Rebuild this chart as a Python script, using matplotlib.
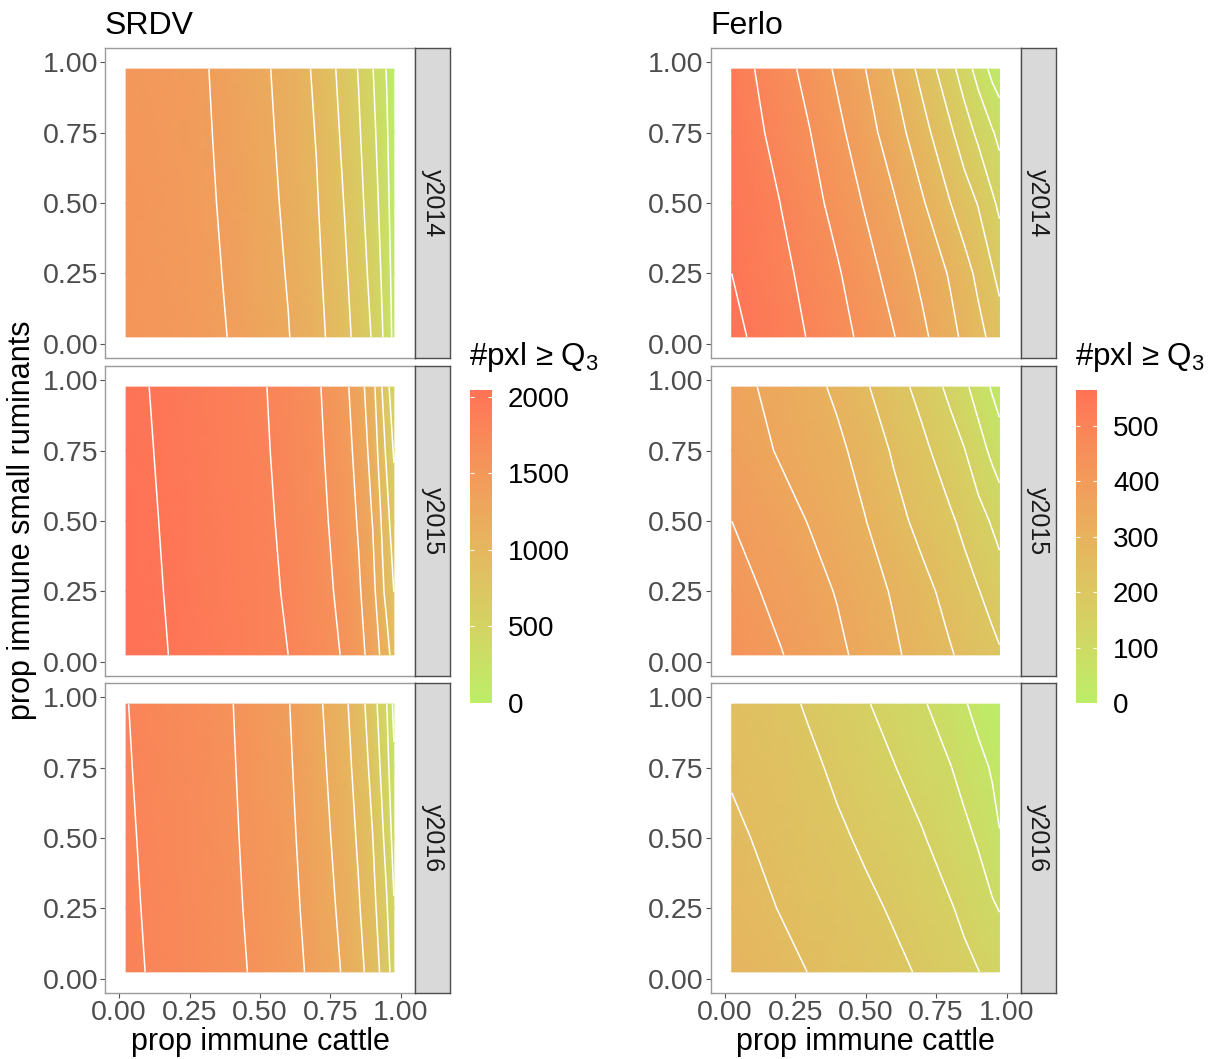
import numpy as np
import matplotlib
matplotlib.use("Agg")
import matplotlib.pyplot as plt
from matplotlib.colors import LinearSegmentedColormap, Normalize, to_rgb
from matplotlib.cm import ScalarMappable

# grid of the surface (node positions)
cattle = [0.025, 0.1, 0.2, 0.3, 0.4, 0.5, 0.6, 0.7, 0.8, 0.85, 0.9, 0.95, 0.975]
small_rum = [0.025, 0.25, 0.5, 0.75, 0.975]
years = ["y2014", "y2015", "y2016"]

# rows go from small_rum = 0.025 (bottom) to 0.975 (top)
srdv_2014 = [
    [1540, 1520, 1490, 1450, 1390, 1299, 1208, 1066, 862, 730, 582, 331, 140],
    [1535, 1515, 1483, 1442, 1377, 1286, 1189, 1042, 829, 696, 540, 297, 116],
    [1530, 1510, 1475, 1432, 1362, 1272, 1167, 1016, 793, 660, 494, 259, 80],
    [1525, 1505, 1467, 1423, 1348, 1258, 1146, 991, 758, 623, 449, 223, 45],
    [1520, 1500, 1460, 1415, 1335, 1245, 1127, 967, 725, 589, 407, 187, 0],
]
srdv_2015 = [
    [2045, 2030, 1990, 1942, 1895, 1848, 1800, 1696, 1582, 1467, 1319, 1077, 900],
    [2041, 2023, 1983, 1935, 1888, 1841, 1785, 1680, 1549, 1426, 1258, 935, 799],
    [2038, 2017, 1975, 1928, 1881, 1834, 1770, 1663, 1514, 1381, 1192, 868, 690],
    [2034, 2010, 1966, 1920, 1873, 1826, 1754, 1646, 1479, 1336, 1126, 759, 581],
    [2030, 2003, 1959, 1913, 1866, 1820, 1739, 1630, 1446, 1294, 1065, 659, 480],
]
srdv_2016 = [
    [1835, 1796, 1743, 1690, 1637, 1570, 1470, 1349, 1176, 1059, 912, 680, 500],
    [1828, 1788, 1735, 1682, 1629, 1555, 1455, 1325, 1143, 1017, 859, 613, 416],
    [1820, 1780, 1727, 1674, 1621, 1540, 1440, 1298, 1107, 974, 802, 540, 325],
    [1812, 1771, 1719, 1666, 1613, 1524, 1424, 1272, 1071, 929, 744, 467, 234],
    [1805, 1763, 1710, 1658, 1605, 1509, 1409, 1247, 1038, 888, 691, 400, 150],
]
ferlo_2014 = [
    [565, 544, 521, 497, 468, 437, 402, 361, 315, 290, 264, 238, 226],
    [550, 534, 512, 486, 455, 419, 381, 340, 295, 268, 239, 204, 185],
    [543, 530, 499, 468, 434, 395, 355, 306, 251, 224, 197, 158, 140],
    [536, 513, 482, 452, 412, 370, 324, 269, 208, 174, 139, 104, 86],
    [527, 502, 470, 434, 392, 350, 297, 235, 166, 126, 81, 35, 20],
]
ferlo_2015 = [
    [439, 423, 402, 381, 360, 335, 308, 280, 254, 240, 226, 213, 205],
    [420, 405, 386, 367, 347, 321, 295, 265, 234, 218, 202, 184, 174],
    [400, 386, 367, 348, 325, 301, 267, 235, 207, 189, 167, 145, 133],
    [377, 364, 345, 328, 310, 282, 244, 212, 173, 152, 121, 88, 72],
    [367, 353, 334, 315, 291, 255, 221, 184, 138, 111, 78, 44, 30],
]
ferlo_2016 = [
    [284, 275, 262, 249, 236, 223, 210, 195, 173, 162, 151, 140, 132],
    [271, 261, 248, 235, 223, 210, 195, 175, 154, 140, 123, 106, 98],
    [259, 249, 235, 222, 208, 192, 173, 154, 126, 112, 95, 67, 53],
    [245, 240, 229, 210, 191, 172, 152, 128, 102, 84, 65, 45, 31],
    [238, 230, 214, 194, 174, 154, 131, 106, 73, 55, 33, 10, 0],
]

regions = ["SRDV", "Ferlo"]
surfaces = {"SRDV": [srdv_2014, srdv_2015, srdv_2016],
            "Ferlo": [ferlo_2014, ferlo_2015, ferlo_2016]}
contour_step = {"SRDV": 200, "Ferlo": 50}
bar_ticks = {"SRDV": [0, 500, 1000, 1500, 2000],
             "Ferlo": [0, 100, 200, 300, 400, 500]}
axis_ticks = [0, 0.25, 0.5, 0.75, 1.0]
axis_labels = ["0.00", "0.25", "0.50", "0.75", "1.00"]

plt.rcParams["font.family"] = ["Liberation Sans", "DejaVu Sans"]
plt.rcParams["mathtext.fontset"] = "custom"
plt.rcParams["mathtext.rm"] = "Liberation Sans"
plt.rcParams["mathtext.it"] = "Liberation Sans"


# ggplot style gradient: interpolate low -> high in Lab space
M = np.array([[0.4124, 0.3576, 0.1805],
              [0.2126, 0.7152, 0.0722],
              [0.0193, 0.1192, 0.9505]])
WHITE = np.array([0.95047, 1.0, 1.08883])


def to_lab(c):
    rgb = np.array(to_rgb(c))
    lin = np.where(rgb <= 0.04045, rgb / 12.92, ((rgb + 0.055) / 1.055) ** 2.4)
    xyz = M @ lin / WHITE
    f = np.where(xyz > 216 / 24389, np.cbrt(xyz), (24389 / 27 * xyz + 16) / 116)
    return np.array([116 * f[1] - 16, 500 * (f[0] - f[1]), 200 * (f[1] - f[2])])


def from_lab(lab):
    fy = (lab[0] + 16) / 116
    f = np.array([fy + lab[1] / 500, fy, fy - lab[2] / 200])
    xyz = np.where(f ** 3 > 216 / 24389, f ** 3, (116 * f - 16) / (24389 / 27)) * WHITE
    lin = np.clip(np.linalg.solve(M, xyz), 0, 1)
    rgb = np.where(lin <= 0.0031308, 12.92 * lin, 1.055 * lin ** (1 / 2.4) - 0.055)
    return np.clip(rgb, 0, 1)


lo, hi = to_lab("#BCEE68"), to_lab("#FF7256")
cmap = LinearSegmentedColormap.from_list(
    "gg", [from_lab(lo + (hi - lo) * t) for t in np.linspace(0, 1, 64)])

W, H = 1217, 1059
fig = plt.figure(figsize=(W / 100, H / 100), dpi=100)


def rect(x0, y0, x1, y1):
    return [x0 / W, 1 - y1 / H, (x1 - x0) / W, (y1 - y0) / H]


col_x = {"SRDV": 105, "Ferlo": 710.6}
row_y = [(48, 358), (366, 676), (683, 993)]
px = 1 / 1.389  # points per pixel at 100 dpi

for region in regions:
    x0 = col_x[region]
    data = [np.array(z, dtype=float) for z in surfaces[region]]
    norm = Normalize(min(z.min() for z in data), max(z.max() for z in data))
    step = contour_step[region]

    for i, (z, year) in enumerate(zip(data, years)):
        y0, y1 = row_y[i]
        ax = fig.add_axes(rect(x0, y0, x0 + 310, y1))
        ax.pcolormesh(cattle, small_rum, z, shading="gouraud", cmap=cmap, norm=norm)
        ax.contour(cattle, small_rum, z, levels=np.arange(step, z.max(), step),
                   colors="white", linewidths=1.1)
        ax.set_xlim(-0.05, 1.05)
        ax.set_ylim(-0.05, 1.05)
        ax.set_xticks(axis_ticks)
        ax.set_xticklabels(axis_labels)
        ax.set_yticks(axis_ticks)
        ax.set_yticklabels(axis_labels)
        ax.tick_params(length=5 * px, width=0.8, color="#555555", labelsize=20.5,
                       labelcolor="#4D4D4D", pad=2 * px)
        if i < 2:
            ax.tick_params(axis="x", bottom=False, labelbottom=False)
        for sp in ax.spines.values():
            sp.set_color("#9A9A9A")
            sp.set_linewidth(1.0)

        # facet strip on the right
        st = fig.add_axes(rect(x0 + 310, y0, x0 + 345, y1))
        st.set_facecolor("#D9D9D9")
        st.set_xticks([])
        st.set_yticks([])
        for sp in st.spines.values():
            sp.set_color("#4D4D4D")
            sp.set_linewidth(1.0)
        st.text(0.5, 0.5, year, rotation=-90, ha="center", va="center",
                fontsize=18, color="#1A1A1A", transform=st.transAxes)

    fig.text(x0 / W, 1 - 34 / H, region, fontsize=23, ha="left", va="baseline")
    fig.text((x0 + 155) / W, 1 - 1042 / H, "prop immune cattle", fontsize=22,
             ha="center", va="center")

    # colour bar
    bx = x0 + 365
    cax = fig.add_axes(rect(bx, 390, bx + 21.5, 703))
    cb = fig.colorbar(ScalarMappable(norm=norm, cmap=cmap), cax=cax,
                      ticks=bar_ticks[region])
    cb.outline.set_visible(False)
    cax.tick_params(axis="y", direction="in", length=4 * px, width=0.8, color="white",
                    left=True, right=True, labelsize=20, labelcolor="black",
                    pad=16 * px)
    fig.text((bx - 1) / W, 1 - 365 / H, "#pxl \u2265 Q$_3$", fontsize=22.5,
             ha="left", va="baseline")

fig.text(22 / W, 1 - 520 / H, "prop immune small ruminants", fontsize=22,
         rotation=90, ha="center", va="center")

fig.savefig("out.png", dpi=100, facecolor="white")
